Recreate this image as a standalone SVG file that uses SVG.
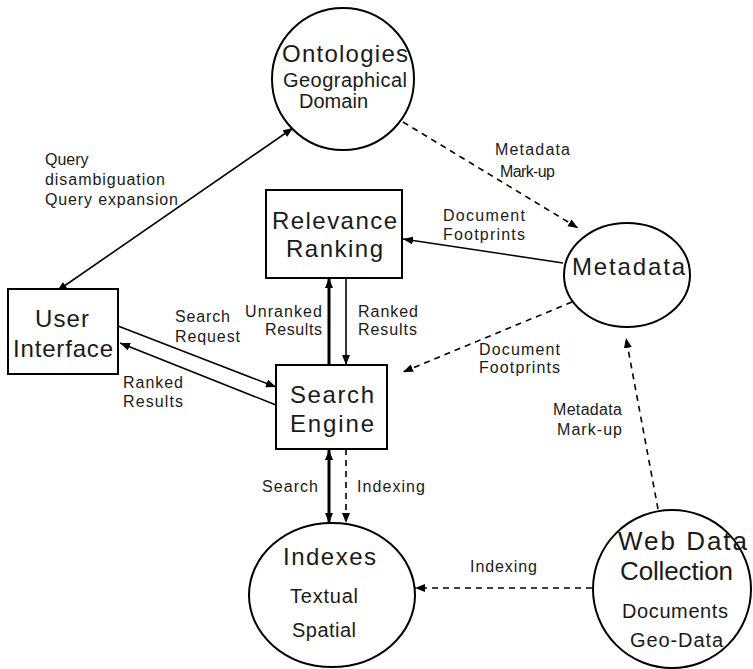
<svg xmlns="http://www.w3.org/2000/svg" width="753" height="669" viewBox="0 0 753 669">
<style>
.shape{fill:#fff;stroke:#000;stroke-width:2}
.t{font-family:"Liberation Sans",Arial,sans-serif;fill:#1a1a1a}
.big{font-size:24px}
.mid{font-size:20px}
.lab{font-size:16px}
.c{stroke:#000;fill:none;stroke-width:1.6}
.thick{stroke-width:3}
.dash{stroke-dasharray:6 5}
</style>
<defs>
<marker id="ah" markerUnits="userSpaceOnUse" markerWidth="11" markerHeight="9" refX="10" refY="4" orient="auto-start-reverse">
<path d="M0,0 L10,4 L0,8 z" fill="#000"/>
</marker>
</defs>
<rect width="753" height="669" fill="#fff"/>
<g id="connectors">
<line class="c" x1="57" y1="291" x2="293" y2="128" marker-start="url(#ah)" marker-end="url(#ah)"/>
<line class="c dash" x1="403" y1="122" x2="578" y2="228" marker-end="url(#ah)"/>
<line class="c" x1="563" y1="263" x2="403" y2="239" stroke-width="2" marker-end="url(#ah)"/>
<line class="c dash" x1="572" y1="302" x2="403" y2="372" marker-end="url(#ah)"/>
<line class="c" x1="346" y1="278" x2="346" y2="365" marker-end="url(#ah)"/>
<line class="c thick" x1="329" y1="365" x2="329" y2="278" marker-end="url(#ah)"/>
<line class="c" x1="118" y1="326" x2="276" y2="387" marker-end="url(#ah)"/>
<line class="c" x1="276" y1="405" x2="120" y2="343" marker-end="url(#ah)"/>
<line class="c thick" x1="329" y1="450" x2="329" y2="523" marker-start="url(#ah)" marker-end="url(#ah)"/>
<line class="c dash" x1="346" y1="449" x2="346" y2="523" marker-end="url(#ah)"/>
<line class="c dash" x1="592" y1="588" x2="415" y2="588" marker-end="url(#ah)"/>
<line class="c dash" x1="658" y1="509" x2="626" y2="338" marker-end="url(#ah)"/>
<g class="t lab">
<text x="45" y="165">Query</text>
<text x="45" y="185" textLength="120" lengthAdjust="spacing">disambiguation</text>
<text x="45" y="205" textLength="133" lengthAdjust="spacing">Query expansion</text>
<text x="495" y="155" textLength="75" lengthAdjust="spacing">Metadata</text>
<text x="500" y="177" textLength="55" lengthAdjust="spacing">Mark-up</text>
<text x="443" y="221" textLength="82" lengthAdjust="spacing">Document</text>
<text x="443" y="240" textLength="82" lengthAdjust="spacing">Footprints</text>
<text x="175" y="322" textLength="55" lengthAdjust="spacing">Search</text>
<text x="175" y="342" textLength="65" lengthAdjust="spacing">Request</text>
<text x="123" y="388" textLength="60" lengthAdjust="spacing">Ranked</text>
<text x="123" y="407" textLength="60" lengthAdjust="spacing">Results</text>
<text x="245" y="317" textLength="77" lengthAdjust="spacing">Unranked</text>
<text x="265" y="335" textLength="57" lengthAdjust="spacing">Results</text>
<text x="358" y="317" textLength="60" lengthAdjust="spacing">Ranked</text>
<text x="358" y="335" textLength="59" lengthAdjust="spacing">Results</text>
<text x="479" y="355" textLength="81" lengthAdjust="spacing">Document</text>
<text x="479" y="373" textLength="81" lengthAdjust="spacing">Footprints</text>
<text x="553" y="415" textLength="69" lengthAdjust="spacing">Metadata</text>
<text x="557" y="435" textLength="65" lengthAdjust="spacing">Mark-up</text>
<text x="262" y="492" textLength="56" lengthAdjust="spacing">Search</text>
<text x="357" y="492" textLength="68" lengthAdjust="spacing">Indexing</text>
<text x="470" y="572" textLength="67" lengthAdjust="spacing">Indexing</text>
</g>
</g>
<g id="ontologies">
<ellipse class="shape" cx="343" cy="79" rx="71" ry="71"/>
<text class="t big" x="282" y="62" textLength="126" lengthAdjust="spacing">Ontologies</text>
<text class="t mid" x="283" y="87" textLength="124" lengthAdjust="spacing">Geographical</text>
<text class="t mid" x="299" y="108" textLength="69" lengthAdjust="spacing">Domain</text>
</g>
<g id="relevance-ranking">
<rect class="shape" x="266" y="190" width="136" height="88"/>
<text class="t big" x="272" y="229" textLength="125" lengthAdjust="spacing">Relevance</text>
<text class="t big" x="286" y="257" textLength="97" lengthAdjust="spacing">Ranking</text>
</g>
<g id="user-interface">
<rect class="shape" x="8" y="289" width="110" height="85"/>
<text class="t big" x="35" y="327" textLength="54" lengthAdjust="spacing">User</text>
<text class="t big" x="13" y="357" textLength="100" lengthAdjust="spacing">Interface</text>
</g>
<g id="search-engine">
<rect class="shape" x="276" y="365" width="111" height="84"/>
<text class="t big" x="290" y="403" textLength="84" lengthAdjust="spacing">Search</text>
<text class="t big" x="290" y="432" textLength="84" lengthAdjust="spacing">Engine</text>
</g>
<g id="metadata">
<ellipse class="shape" cx="627" cy="275" rx="63" ry="52"/>
<text class="t big" x="572" y="275" textLength="113" lengthAdjust="spacing">Metadata</text>
</g>
<g id="indexes">
<ellipse class="shape" cx="332" cy="595" rx="83" ry="72"/>
<text class="t big" x="283" y="565" textLength="93" lengthAdjust="spacing">Indexes</text>
<text class="t mid" x="290" y="603" textLength="68" lengthAdjust="spacing">Textual</text>
<text class="t mid" x="292" y="637" textLength="64" lengthAdjust="spacing">Spatial</text>
</g>
<g id="web-data-collection">
<ellipse class="shape" cx="672" cy="589" rx="79" ry="79"/>
<text class="t" font-size="26" x="618" y="550" textLength="129" lengthAdjust="spacing">Web Data</text>
<text class="t" font-size="26" x="620" y="580" textLength="113" lengthAdjust="spacing">Collection</text>
<text class="t mid" x="622" y="618" textLength="106" lengthAdjust="spacing">Documents</text>
<text class="t mid" x="630" y="647" textLength="93" lengthAdjust="spacing">Geo-Data</text>
</g>
</svg>
